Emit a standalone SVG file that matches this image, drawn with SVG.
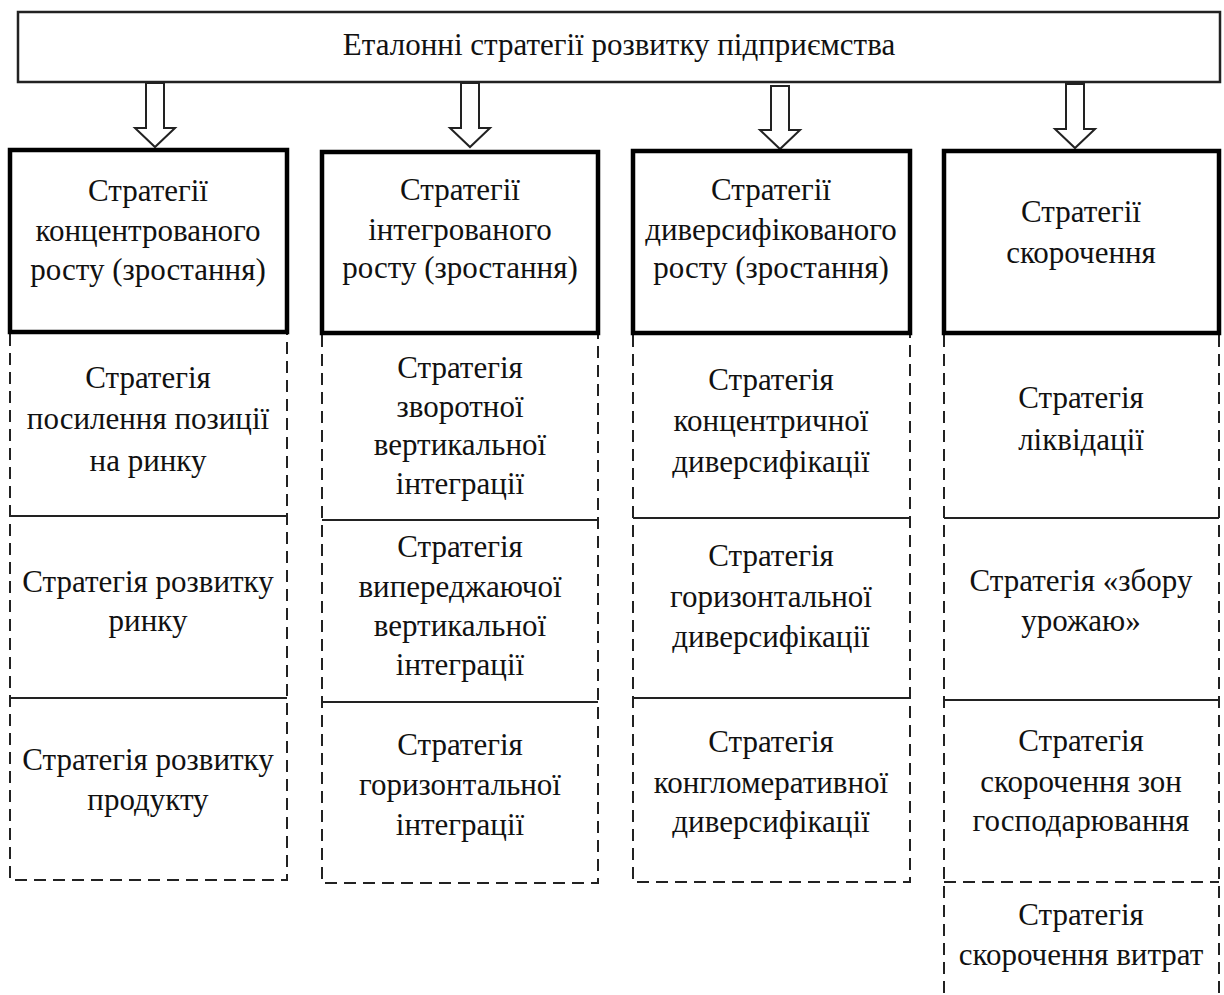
<svg xmlns="http://www.w3.org/2000/svg" width="1224" height="995" viewBox="0 0 1224 995">
<style>
.t{font-family:"Liberation Serif","Times New Roman",serif;font-size:31px;fill:#111;text-anchor:middle}
.top{fill:#fff;stroke:#222;stroke-width:2.5}
.hdr{fill:#fff;stroke:#000;stroke-width:4.5}
.dash{fill:none;stroke:#222;stroke-width:2;stroke-dasharray:12 7}
.sol{fill:none;stroke:#222;stroke-width:2}
.arr{fill:#fff;stroke:#222;stroke-width:2;stroke-linejoin:miter}
</style>
<rect width="1224" height="995" fill="#fff"/>
<g id="root">
<rect class="top" x="18" y="12" width="1202" height="70"/>
<text class="t" x="619" y="55">Еталонні стратегії розвитку підприємства</text>
</g>
<g id="connectors">
<polygon class="arr" points="146,83 164,83 164,128 175,128 155,147 135,128 146,128"/>
<polygon class="arr" points="461,83 479,83 479,128 490,128 470,147 450,128 461,128"/>
<polygon class="arr" points="771,86 789,86 789,130 800,130 780,149 760,130 771,130"/>
<polygon class="arr" points="1066,84 1084,84 1084,129 1095,129 1075,148 1055,129 1066,129"/>
</g>
<g id="col1">
<path class="dash" d="M10,334 V880 H287 V334"/>
<path class="sol" d="M10,516 H287 M10,698 H287"/>
<rect class="hdr" x="10" y="150" width="277" height="182"/>
<text class="t" x="148" y="201">Стратегії</text>
<text class="t" x="148" y="241">концентрованого</text>
<text class="t" x="148" y="280">росту (зростання)</text>
<text class="t" x="148" y="388">Стратегія</text>
<text class="t" x="148" y="429">посилення позиції</text>
<text class="t" x="148" y="471">на ринку</text>
<text class="t" x="148" y="592">Стратегія розвитку</text>
<text class="t" x="148" y="631">ринку</text>
<text class="t" x="148" y="770">Стратегія розвитку</text>
<text class="t" x="148" y="810">продукту</text>
</g>
<g id="col2">
<path class="dash" d="M322,335 V883 H598 V335"/>
<path class="sol" d="M322,520 H598 M322,702 H598"/>
<rect class="hdr" x="322" y="152" width="276" height="181"/>
<text class="t" x="460" y="200">Стратегії</text>
<text class="t" x="460" y="240">інтегрованого</text>
<text class="t" x="460" y="278">росту (зростання)</text>
<text class="t" x="460" y="378">Стратегія</text>
<text class="t" x="460" y="417">зворотної</text>
<text class="t" x="460" y="455">вертикальної</text>
<text class="t" x="460" y="494">інтеграції</text>
<text class="t" x="460" y="557">Стратегія</text>
<text class="t" x="460" y="597">випереджаючої</text>
<text class="t" x="460" y="636">вертикальної</text>
<text class="t" x="460" y="675">інтеграції</text>
<text class="t" x="460" y="755">Стратегія</text>
<text class="t" x="460" y="795">горизонтальної</text>
<text class="t" x="460" y="835">інтеграції</text>
</g>
<g id="col3">
<path class="dash" d="M633,335 V882 H910 V335"/>
<path class="sol" d="M633,518 H910 M633,698 H910"/>
<rect class="hdr" x="633" y="151" width="277" height="182"/>
<text class="t" x="771" y="200">Стратегії</text>
<text class="t" x="771" y="240">диверсифікованого</text>
<text class="t" x="771" y="278">росту (зростання)</text>
<text class="t" x="771" y="390">Стратегія</text>
<text class="t" x="771" y="431">концентричної</text>
<text class="t" x="771" y="472">диверсифікації</text>
<text class="t" x="771" y="566">Стратегія</text>
<text class="t" x="771" y="607">горизонтальної</text>
<text class="t" x="771" y="647">диверсифікації</text>
<text class="t" x="771" y="752">Стратегія</text>
<text class="t" x="771" y="793">конгломеративної</text>
<text class="t" x="771" y="832">диверсифікації</text>
</g>
<g id="col4">
<path class="dash" d="M944,335 V995 M1219,335 V995 M944,882 H1219"/>
<path class="sol" d="M944,518 H1219 M944,700 H1219"/>
<rect class="hdr" x="944" y="151" width="275" height="182"/>
<text class="t" x="1081" y="222">Стратегії</text>
<text class="t" x="1081" y="263">скорочення</text>
<text class="t" x="1081" y="408">Стратегія</text>
<text class="t" x="1081" y="450">ліквідації</text>
<text class="t" x="1081" y="591">Стратегія «збору</text>
<text class="t" x="1081" y="631">урожаю»</text>
<text class="t" x="1081" y="751">Стратегія</text>
<text class="t" x="1081" y="792">скорочення зон</text>
<text class="t" x="1081" y="831">господарювання</text>
<text class="t" x="1081" y="925">Стратегія</text>
<text class="t" x="1081" y="965">скорочення витрат</text>
</g>
</svg>
